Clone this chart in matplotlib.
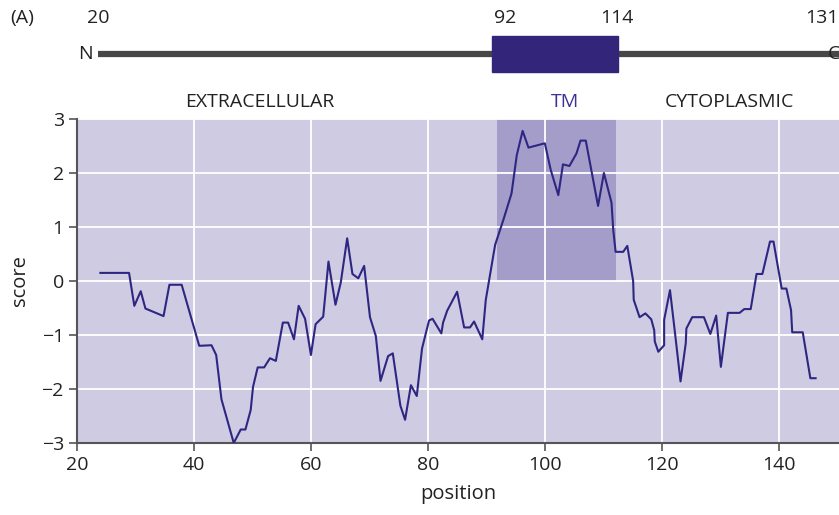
import matplotlib
matplotlib.use('Agg')
import matplotlib.pyplot as plt

plt.rcParams['font.family'] = ['Open Sans', 'DejaVu Sans']

# hydropathy score along the sequence
position = [24, 28.9, 29.8, 30.9, 31.7, 34.8, 35.8, 37.9, 40.9, 43.0, 43.8, 44.7,
            46.8, 48.0, 48.8, 49.7, 50.1, 50.9, 52.0, 53.0, 54.0, 55.2, 56.1, 57.1,
            57.9, 59.0, 60.0, 60.8, 62.1, 63.0, 64.2, 65.1, 66.2, 67.1, 68.1, 69.1,
            70.1, 71.1, 71.9, 73.2, 74.0, 75.3, 76.1, 77.1, 78.1, 79.0, 80.2, 80.8,
            82.3, 82.6, 83.3, 85.0, 86.2, 87.2, 87.9, 89.3, 89.9, 91.5, 92.9, 94.3,
            95.2, 96.2, 97.2, 100.0, 101.0, 102.3, 103.1, 104.2, 105.4, 106.1, 107.0,
            109.1, 110.1, 111.4, 111.7, 112.1, 113.4, 114.1, 115.1, 115.2, 116.2,
            117.2, 118.2, 118.7, 118.8, 119.4, 120.4, 120.4, 121.4, 122.2, 123.2,
            124.1, 124.2, 125.2, 127.2, 128.3, 129.3, 130.1, 131.3, 133.3, 134.1,
            135.2, 136.2, 137.2, 138.5, 139.1, 140.5, 141.3, 142.1, 142.3, 144.1,
            145.4, 146.3]
score = [0.15, 0.15, -0.46, -0.19, -0.51, -0.65, -0.07, -0.07, -1.2, -1.19, -1.37, -2.19,
         -3.0, -2.75, -2.75, -2.39, -1.96, -1.6, -1.6, -1.43, -1.48, -0.77, -0.77, -1.08,
         -0.46, -0.7, -1.37, -0.8, -0.66, 0.36, -0.44, -0.03, 0.79, 0.13, 0.05, 0.28,
         -0.67, -1.02, -1.85, -1.39, -1.34, -2.31, -2.57, -1.93, -2.13, -1.25, -0.73, -0.7,
         -0.97, -0.77, -0.55, -0.2, -0.86, -0.86, -0.75, -1.08, -0.35, 0.67, 1.13, 1.62,
         2.33, 2.78, 2.47, 2.55, 2.06, 1.59, 2.16, 2.13, 2.36, 2.6, 2.6,
         1.39, 2.0, 1.45, 0.94, 0.54, 0.54, 0.65, 0.0, -0.35, -0.67,
         -0.6, -0.71, -0.91, -1.12, -1.31, -1.19, -0.72, -0.17, -0.91, -1.86,
         -1.15, -0.88, -0.67, -0.67, -0.98, -0.64, -1.59, -0.59, -0.59, -0.52,
         -0.52, 0.13, 0.13, 0.73, 0.73, -0.14, -0.14, -0.54, -0.95, -0.95,
         -1.8, -1.8]

tm_start, tm_end = 91.8, 112.2
regions = ['EXTRACELLULAR', 'TM', 'CYTOPLASMIC']
domain_ticks = ['20', '92', '114', '131']

bg = '#cfcbe3'
tm_col = '#a49dca'
line_col = '#2e2782'
spine_col = '#555555'

fig = plt.figure(figsize=(8.39, 5.15), dpi=100)
ax = fig.add_axes([77 / 839, 72 / 515, 762 / 839, 324 / 515])
ax.set_facecolor(bg)
ax.axvspan(tm_start, tm_end, ymin=0.5, ymax=1.0, color=tm_col, lw=0, zorder=0.5)
ax.plot(position, score, color=line_col, lw=1.5, zorder=3)

ax.set_xlim(20, 150.3)
ax.set_ylim(-3, 3)
ax.set_xticks(range(20, 141, 20))
ax.set_yticks(range(-3, 4))
ax.set_yticklabels(['\u22123', '\u22122', '\u22121', '0', '1', '2', '3'])
ax.grid(color='white', lw=1.3, zorder=1)
ax.set_axisbelow(True)
for s in ['top', 'right']:
    ax.spines[s].set_visible(False)
for s in ['left', 'bottom']:
    ax.spines[s].set_color(spine_col)
    ax.spines[s].set_linewidth(1.5)
ax.tick_params(colors=spine_col, width=1.2, length=6, labelsize=14, labelcolor='#222222')
ax.set_xlabel('position', fontsize=14.5, color='#222222', labelpad=7)
ax.set_ylabel('score', fontsize=14.5, color='#222222', labelpad=8)

# schematic of the protein on top, in pixel coordinates
top = fig.add_axes([0, 0, 1, 1], zorder=-1)
top.set_xlim(0, 839)
top.set_ylim(515, 0)
top.axis('off')
top.plot([98, 839], [54, 54], color='#474747', lw=4.5, solid_capstyle='butt')
top.add_patch(plt.Rectangle((492, 36), 126, 36, color='#33267a', zorder=3))
txt = dict(fontsize=14, color='#222222', va='center')
top.text(10, 18, '(A)', ha='left', **txt)
for lab, xp in zip(domain_ticks, [98, 505, 617, 822]):
    top.text(xp, 18, lab, ha='center', **txt)
top.text(85, 54, 'N', ha='center', **txt)
top.text(828, 54, 'C', ha='left', **txt)
for lab, xp, c in zip(regions, [260, 565, 729], ['#222222', '#3b3196', '#222222']):
    top.text(xp, 102, lab, ha='center', va='center', fontsize=14, color=c)

fig.savefig('out.png', dpi=100)
